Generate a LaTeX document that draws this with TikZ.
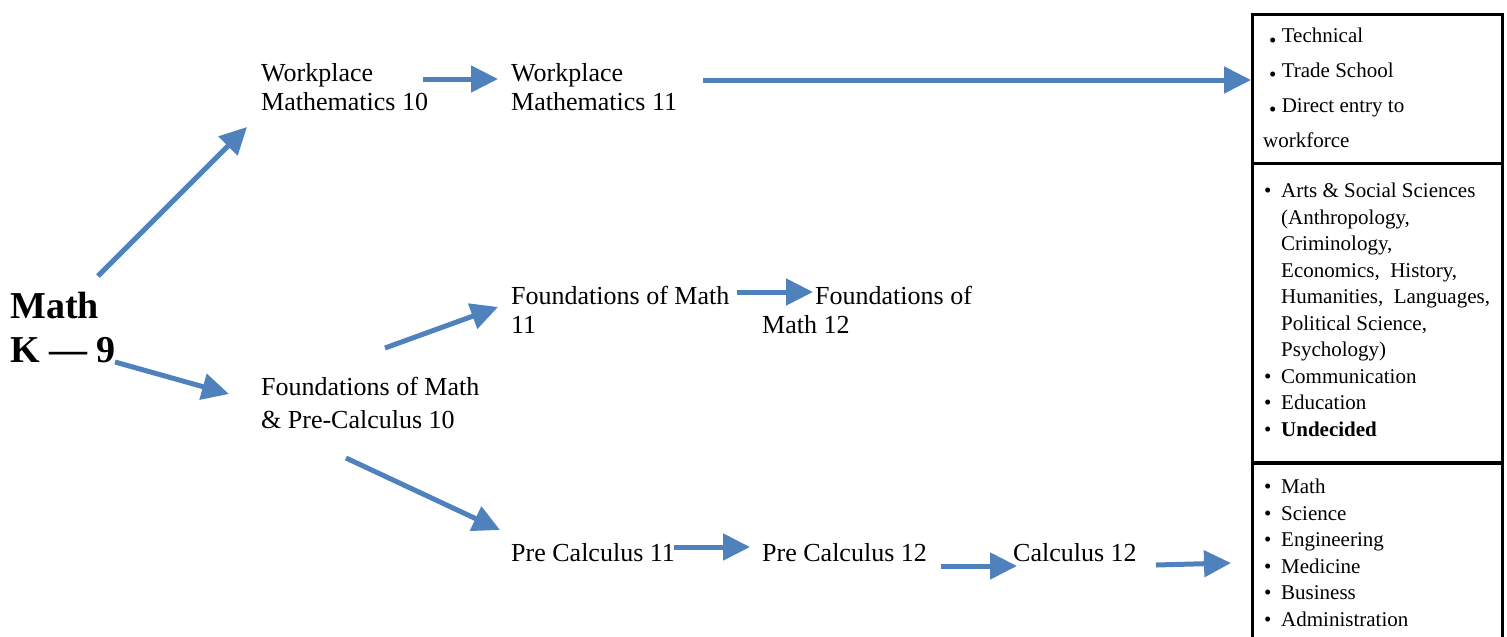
\documentclass[tikz,border=0pt]{standalone}
\usepackage{fontspec}
\setmainfont{Liberation Serif}
\usepackage{xcolor}
\usetikzlibrary{arrows.meta,positioning}
\definecolor{pathblue}{RGB}{79,129,189}
\newcommand{\lowbul}{\raisebox{-0.2em}{\textbullet}}
\newcommand{\itm}{\makebox[17pt][l]{\textbullet}}
\newcommand{\cnt}{\hspace*{17pt}}

\begin{document}
\begin{tikzpicture}[
    x=1pt, y=-1pt,
    course/.style={anchor=base west, inner sep=0pt, align=left, font=\fontsize{26}{28.5}\selectfont},
    listtext/.style={anchor=base west, inner sep=0pt, align=left, font=\fontsize{21}{26.5}\selectfont},
    outbox/.style={draw, line width=2.5pt, anchor=north west, minimum width=250pt, inner sep=0pt},
    arrow/.style={draw=pathblue, line width=5pt, -{Triangle[length=27pt,width=26pt]}}
]
\useasboundingbox (0,0) rectangle (1507,637);
\clip (0,0) rectangle (1507,637);

% start (base = last line)
\node[course, font=\fontsize{38}{44}\selectfont\bfseries] (mathk9) at (10,362) {Math\\K --- 9};

% courses
\node[course] (wm10) at (261,110) {Workplace\\Mathematics 10};
\node[course] (wm11) at (511,110) {Workplace\\Mathematics 11};
\node[course] (fm11) at (511,333) {Foundations of Math\\11};
\node[course] (fm12) at (762,333) {\hspace*{53pt}Foundations of\\Math 12};
\node[course, font=\fontsize{26}{33}\selectfont] (fpc10) at (261,428) {Foundations of Math\\\& Pre-Calculus 10};
\node[course] (pc11) at (511,561) {Pre Calculus 11};
\node[course] (pc12) at (762,561) {Pre Calculus 12};
\node[course] (calc12) at (1013,561) {Calculus 12};

% destinations
\node[outbox, minimum height=149pt] (techbox) at (1251,13) {};
\node[outbox, minimum height=300pt] (artsbox) at (1251,162) {};
\node[outbox, minimum height=200pt] (scibox) at (1251,461) {};

\node[listtext, font=\fontsize{21}{34.7}\selectfont] (techlist) at (1263,147)
    {\hspace*{6pt}\lowbul\ Technical\\
     \hspace*{6pt}\lowbul\ Trade School\\
     \hspace*{6pt}\lowbul\ Direct entry to\\
     workforce};
\node[listtext] (artslist) at (1264,436)
    {\itm Arts \& Social Sciences\\
     \cnt(Anthropology,\\
     \cnt Criminology,\\
     \cnt Economics,\ \ History,\\
     \cnt Humanities,\ \ Languages,\\
     \cnt Political Science,\\
     \cnt Psychology)\\
     \itm Communication\\
     \itm Education\\
     \itm\textbf{Undecided}};
\node[listtext] (scilist) at (1264,626)
    {\itm Math\\
     \itm Science\\
     \itm Engineering\\
     \itm Medicine\\
     \itm Business\\
     \itm Administration};

% arrow ends
\coordinate (k9up) at (98,276);
\coordinate (wm10in) at (247,127);
\coordinate (k9down) at (115,362);
\coordinate (fpc10in) at (229,394);
\coordinate (wm10out) at (423,79);
\coordinate (wm11in) at (498,79);
\coordinate (wm11out) at (703,80);
\coordinate (fpc10up) at (385,348);
\coordinate (fm11in) at (498,307);
\coordinate (fm11out) at (737,292);
\coordinate (fm12in) at (813,292);
\coordinate (fpc10dn) at (346,458);
\coordinate (pc11in) at (500,530);
\coordinate (pc11out) at (674,547);
\coordinate (pc12in) at (750,547);
\coordinate (pc12out) at (941,566);
\coordinate (calc12in) at (1017,566);
\coordinate (calc12out) at (1156,565);
\coordinate (sciin) at (1231,563);

\draw[arrow] (k9up) -- (wm10in);
\draw[arrow] (k9down) -- (fpc10in);
\draw[arrow] (wm10out) -- (wm11in);
\draw[arrow] (wm11out) -- (wm11out -| techbox.west);
\draw[arrow] (fpc10up) -- (fm11in);
\draw[arrow] (fm11out) -- (fm12in);
\draw[arrow] (fpc10dn) -- (pc11in);
\draw[arrow] (pc11out) -- (pc12in);
\draw[arrow] (pc12out) -- (calc12in);
\draw[arrow] (calc12out) -- (sciin);
\end{tikzpicture}
\end{document}
